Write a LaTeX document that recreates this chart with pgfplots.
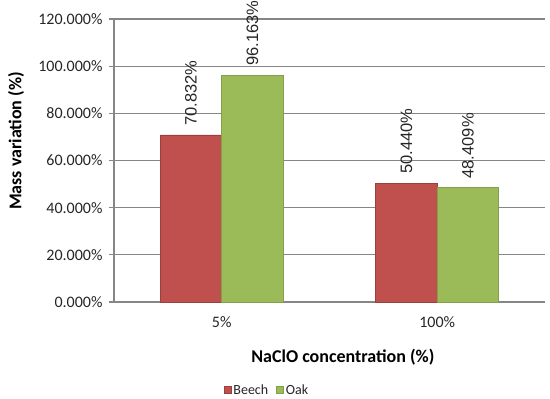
\documentclass[border=0pt]{standalone}
\usepackage{graphicx}
\usepackage{pgfplots}
\pgfplotsset{compat=1.18}
\usepackage{fontspec}
\setmainfont{Carlito}
\newfontfamily\arialfont{Liberation Sans}
\definecolor{beech}{HTML}{C0504D}
\definecolor{oak}{HTML}{9BBB59}
\definecolor{gridc}{HTML}{868686}
\definecolor{txt}{HTML}{262626}
\begin{document}
\begin{tikzpicture}
\begin{axis}[
  ybar=0pt,
  scale only axis, width=431bp, height=283bp,
  xmin=-0.5, xmax=1.5, ymin=0, ymax=120,
  ytick={0,20,...,120},
  xtick={0,1}, xticklabels={5\%,100\%},
  /pgf/number format/assume math mode=true,
  yticklabel={\pgfmathprintnumber[fixed,fixed zerofill,precision=3]{\tick}\%},
  ymajorgrids, grid style={gridc, line width=1.3bp},
  axis x line*=bottom, axis y line*=left,
  axis line style={-, gridc, line width=1.3bp},
  tick align=outside, major tick length=5bp,
  ytick style={gridc, line width=1.3bp},
  xtick style={draw=none},
  tick label style={font=\fontsize{16bp}{19bp}\selectfont, text=txt},
  yticklabel style={xshift=-3bp},
  xticklabel style={yshift=-6bp},
  xlabel={NaClO concentration (\%)},
  ylabel={Mass variation (\%)},
  label style={font=\bfseries\fontsize{18bp}{21bp}\selectfont, text=black},
  xlabel style={at={(axis description cs:0.531,-0.194)}, anchor=center},
  ylabel style={at={(axis description cs:-0.227,0.569)}, anchor=center},
  bar width=61.4bp,
  nodes near coords={\rotatebox{90}{\pgfmathprintnumber[fixed,fixed zerofill,precision=3]{\pgfplotspointmeta}\%}},
  every node near coord/.append style={anchor=south, inner sep=0pt, inner ysep=9bp,
     font=\arialfont\fontsize{16.5bp}{19bp}\selectfont, text=txt},
  legend style={at={(axis description cs:0.355,-0.311)}, anchor=center, draw=none,
     font=\fontsize{14bp}{16bp}\selectfont, text=txt, legend columns=2,
     /tikz/every even column/.append style={column sep=6bp}, inner sep=0pt},
  legend image code/.code={\draw[#1, line width=0.6bp] (0bp,-3.5bp) rectangle (7bp,3.5bp);},
]
\addplot[fill=beech, draw=beech!80!black, line width=0.8bp]
  coordinates {(0,70.832) (1,50.440)};
\addplot[fill=oak, draw=oak!85!black, line width=0.8bp]
  coordinates {(0,96.163) (1,48.409)};
\legend{Beech,Oak}
\coordinate (O) at (rel axis cs:0,0);
\end{axis}
\pgfresetboundingbox
\path[use as bounding box] (O) ++(-114bp,-97bp) rectangle ++(550bp,399bp);
\end{tikzpicture}
\end{document}
